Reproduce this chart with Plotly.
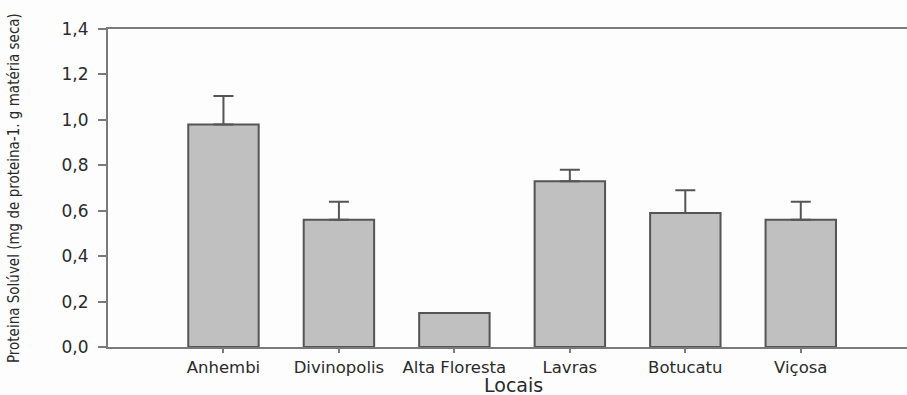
import plotly.graph_objects as go

# Soluble protein by collection site
locais = ["Anhembi", "Divinopolis", "Alta Floresta", "Lavras", "Botucatu", "Viçosa"]
proteina = [0.98, 0.56, 0.15, 0.73, 0.59, 0.56]
erro = [0.125, 0.08, 0.0, 0.05, 0.10, 0.08]

y_ticks = [0.0, 0.2, 0.4, 0.6, 0.8, 1.0, 1.2, 1.4]
y_labels = ["0,0", "0,2", "0,4", "0,6", "0,8", "1,0", "1,2", "1,4"]

axis_gray = "#7a7a7a"
edge_gray = "#555555"
text_gray = "#2a2a2a"

fig = go.Figure(
    go.Bar(
        x=list(range(len(locais))),
        y=proteina,
        width=0.61,
        marker=dict(color="#c0c0c0", line=dict(color=edge_gray, width=2)),
        error_y=dict(
            type="data",
            symmetric=False,
            array=erro,
            arrayminus=[0] * len(erro),
            color=edge_gray,
            thickness=2,
            width=10,
        ),
    )
)

fig.update_layout(
    width=907,
    height=395,
    margin=dict(l=108, r=0, t=29, b=48),
    paper_bgcolor="#fdfdfd",
    plot_bgcolor="#fdfdfd",
    showlegend=False,
    font=dict(family="DejaVu Sans, Arial, sans-serif", color=text_gray),
    xaxis=dict(
        range=[-1.0, 5.92],
        tickmode="array",
        tickvals=list(range(len(locais))),
        ticktext=locais,
        tickangle=0,
        ticks="outside",
        ticklen=4,
        tickwidth=2,
        tickcolor=axis_gray,
        tickfont=dict(size=16.5, color=text_gray),
        showline=True,
        linecolor=axis_gray,
        linewidth=2,
        mirror=True,
        showgrid=False,
        zeroline=False,
        automargin=False,
    ),
    yaxis=dict(
        range=[0, 1.4],
        tickmode="array",
        tickvals=y_ticks,
        ticktext=y_labels,
        ticks="outside",
        ticklen=8,
        tickwidth=2,
        tickcolor=axis_gray,
        tickfont=dict(size=17, color=text_gray),
        ticklabelstandoff=6,
        showline=True,
        linecolor=axis_gray,
        linewidth=2,
        showgrid=False,
        zeroline=False,
        automargin=False,
    ),
    annotations=[
        dict(
            text="Proteina Solúvel (mg de proteina-1. g matéria seca)",
            textangle=-90,
            xref="paper",
            yref="paper",
            x=-0.1176,
            y=0.5,
            xanchor="center",
            yanchor="middle",
            showarrow=False,
            font=dict(family="DejaVu Sans Condensed, Liberation Sans Narrow, sans-serif",
                      size=15, color=text_gray),
        ),
        dict(
            text="Locais",
            xref="paper",
            yref="paper",
            x=0.507,
            y=-0.118,
            xanchor="center",
            yanchor="middle",
            showarrow=False,
            font=dict(size=19, color=text_gray),
        ),
    ],
)

fig.write_html("out.html")
